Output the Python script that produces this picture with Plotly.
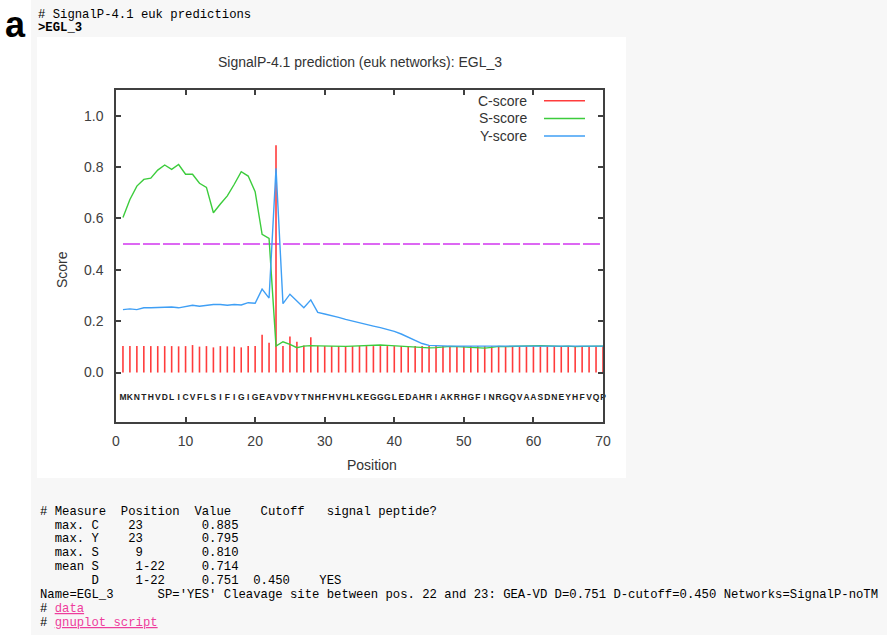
import plotly.graph_objects as go

W, H = 887, 635
# plot-area pixel box
PL, PR, PT, PB = 116, 603, 90, 422

positions = list(range(1, 71))
sequence = list("MKNTHVDLICVFLSIFIGIGEAVDVYTNHFHVHLKEGGGLEDAHRIAKRHGFINRGQVAASDNEYHFVQP")

c_score = [0.103, 0.103, 0.103, 0.103, 0.103, 0.103, 0.103, 0.103, 0.102, 0.103,
           0.107, 0.101, 0.103, 0.098, 0.103, 0.102, 0.101, 0.098, 0.103, 0.103,
           0.147, 0.116, 0.885, 0.103, 0.140, 0.120, 0.105, 0.137, 0.104, 0.103,
           0.103, 0.103, 0.103, 0.103, 0.104, 0.103, 0.103, 0.103, 0.103, 0.103,
           0.103, 0.103, 0.103, 0.103, 0.103, 0.103, 0.103, 0.103, 0.103, 0.103,
           0.103, 0.103, 0.103, 0.103, 0.103, 0.103, 0.103, 0.103, 0.103, 0.103,
           0.103, 0.103, 0.103, 0.103, 0.103, 0.103, 0.103, 0.103, 0.103, 0.103]

s_score = [0.604, 0.674, 0.726, 0.752, 0.757, 0.788, 0.808, 0.791, 0.810, 0.772,
           0.772, 0.737, 0.721, 0.622, 0.656, 0.688, 0.733, 0.782, 0.765, 0.704,
           0.538, 0.522, 0.103, 0.120, 0.110, 0.097, 0.103, 0.105, 0.104, 0.103,
           0.102, 0.102, 0.102, 0.103, 0.104, 0.106, 0.107, 0.107, 0.106, 0.104,
           0.102, 0.100, 0.099, 0.097, 0.096, 0.097, 0.100, 0.102, 0.101, 0.100,
           0.099, 0.096, 0.095, 0.098, 0.102, 0.101, 0.102, 0.103, 0.104, 0.105,
           0.105, 0.104, 0.102, 0.102, 0.103, 0.101, 0.102, 0.103, 0.103, 0.103]

y_score = [0.245, 0.248, 0.245, 0.252, 0.252, 0.253, 0.253, 0.255, 0.252, 0.258,
           0.262, 0.258, 0.263, 0.265, 0.265, 0.262, 0.265, 0.263, 0.272, 0.270,
           0.325, 0.290, 0.795, 0.268, 0.305, 0.280, 0.252, 0.283, 0.234, 0.228,
           0.222, 0.215, 0.207, 0.200, 0.193, 0.187, 0.181, 0.175, 0.168, 0.160,
           0.150, 0.138, 0.125, 0.113, 0.106, 0.104, 0.104, 0.103, 0.103, 0.103,
           0.103, 0.103, 0.103, 0.103, 0.103, 0.103, 0.103, 0.103, 0.103, 0.103,
           0.103, 0.103, 0.103, 0.103, 0.103, 0.103, 0.103, 0.103, 0.103, 0.103]

cutoff = 0.5
seq_label_y = -0.1
x_ticks = [0, 10, 20, 30, 40, 50, 60, 70]
y_ticks = [0.0, 0.2, 0.4, 0.6, 0.8, 1.0]
legend_names = ["C-score", "S-score", "Y-score"]

header_lines = ["# SignalP-4.1 euk predictions", "<b>>EGL_3</b>"]
result_lines = [
    "# Measure  Position  Value    Cutoff   signal peptide?",
    "  max. C    23        0.885",
    "  max. Y    23        0.795",
    "  max. S     9        0.810",
    "  mean S     1-22     0.714",
    "       D     1-22     0.751  0.450    YES",
    "Name=EGL_3      SP='YES' Cleavage site between pos. 22 and 23: GEA-VD D=0.751 D-cutoff=0.450 Networks=SignalP-noTM",
]
link_lines = ["data", "gnuplot script"]

RED, GREEN, BLUE, MAG = "#ff3c3c", "#3ccc3c", "#3f9ff5", "#d236f0"
AX = "#404040"
SANS = "Liberation Sans, Arial, sans-serif"
MONO = "Liberation Mono, Courier New, monospace"


def px2x(px):
    return (px - PL) / (PR - PL)


def px2y(py):
    return (PB - py) / (PB - PT)


fig = go.Figure()

# cutoff line
fig.add_trace(go.Scatter(x=[positions[0], positions[-1]], y=[cutoff, cutoff], mode="lines",
                         line=dict(color=MAG, width=1.5, dash="17px,3px"), hoverinfo="skip"))

# C-score impulses
cx, cy = [], []
for p, v in zip(positions, c_score):
    cx += [p, p, None]
    cy += [0, v, None]
fig.add_trace(go.Scatter(x=cx, y=cy, mode="lines", line=dict(color=RED, width=1.6), name="C-score"))
fig.add_trace(go.Scatter(x=positions, y=s_score, mode="lines", line=dict(color=GREEN, width=1.4), name="S-score"))
fig.add_trace(go.Scatter(x=positions, y=y_score, mode="lines", line=dict(color=BLUE, width=1.4), name="Y-score"))

# sequence letters
fig.add_trace(go.Scatter(x=positions, y=[seq_label_y] * len(positions), mode="text", text=sequence,
                         textfont=dict(family=SANS, size=8.5, color="#222222"), cliponaxis=False,
                         texttemplate="<b>%{text}</b>", hoverinfo="skip"))

shapes = [
    dict(type="rect", xref="paper", yref="paper", x0=px2x(31), x1=px2x(W), y0=px2y(H), y1=px2y(0),
         fillcolor="#f7f7f7", line=dict(width=0), layer="below"),
    dict(type="rect", xref="paper", yref="paper", x0=px2x(37), x1=px2x(626), y0=px2y(478), y1=px2y(37),
         fillcolor="white", line=dict(width=0), layer="below"),
]
annotations = []

# legend (gnuplot style: text then sample)
for i, (name, col) in enumerate(zip(legend_names, [RED, GREEN, BLUE])):
    yy = 100.7 + i * 17.7
    annotations.append(dict(xref="paper", yref="paper", x=px2x(528), y=px2y(yy), xanchor="right",
                            yanchor="middle", text=name, showarrow=False, borderpad=0,
                            font=dict(family=SANS, size=14, color="#333333")))
    shapes.append(dict(type="line", xref="paper", yref="paper", x0=px2x(544), x1=px2x(585),
                       y0=px2y(yy), y1=px2y(yy), line=dict(color=col, width=1.5)))

# titles
annotations.append(dict(xref="paper", yref="paper", x=px2x(360), y=px2y(62), xanchor="center", yanchor="middle",
                        text="SignalP-4.1 prediction (euk networks): EGL_3", showarrow=False,
                        font=dict(family=SANS, size=14, color="#333333")))
annotations.append(dict(xref="paper", yref="paper", x=px2x(62), y=px2y(270), xanchor="center", yanchor="middle",
                        text="Score", textangle=-90, showarrow=False,
                        font=dict(family=SANS, size=14, color="#333333")))
annotations.append(dict(xref="paper", yref="paper", x=px2x(372), y=px2y(465), xanchor="center", yanchor="middle",
                        text="Position", showarrow=False,
                        font=dict(family=SANS, size=14, color="#333333")))

# panel letter
annotations.append(dict(xref="paper", yref="paper", x=px2x(4), y=px2y(3), xanchor="left", yanchor="top",
                        text="<b>a</b>", showarrow=False, borderpad=0,
                        font=dict(family=SANS, size=36, color="black")))


def mono(s):
    return s.replace(" ", "\u00a0")


for i, t in enumerate(header_lines):
    annotations.append(dict(xref="paper", yref="paper", x=px2x(37), y=px2y(15 + i * 13.5), xanchor="left",
                            yanchor="middle", text=mono(t),
                            showarrow=False, borderpad=0,
                            font=dict(family=MONO, size=12.25, color="black")))
for i, t in enumerate(result_lines):
    annotations.append(dict(xref="paper", yref="paper", x=px2x(39), y=px2y(511.7 + i * 13.85), xanchor="left",
                            yanchor="middle", text=mono(t), showarrow=False, borderpad=0,
                            font=dict(family=MONO, size=12.25, color="black")))
for j, t in enumerate(link_lines):
    i = len(result_lines) + j
    annotations.append(dict(xref="paper", yref="paper", x=px2x(39), y=px2y(511.7 + i * 13.85), xanchor="left",
                            yanchor="middle",
                            text="#\u00a0<span style='color:#ee3d9c'><u>" + mono(t) + "</u></span>",
                            showarrow=False, borderpad=0,
                            font=dict(family=MONO, size=12.25, color="black")))

fig.update_layout(
    width=W, height=H,
    margin=dict(l=PL, r=W - PR, t=PT, b=H - PB, pad=0),
    paper_bgcolor="white", plot_bgcolor="white",
    showlegend=False,
    shapes=shapes, annotations=annotations,
    xaxis=dict(range=[0, 70], tickvals=x_ticks, ticks="inside", ticklen=5, tickwidth=1.5, tickcolor=AX,
               showline=True, linecolor=AX, linewidth=1.5, mirror="ticks", showgrid=False, zeroline=False,
               tickfont=dict(family=SANS, size=14, color="#404040"), ticklabelstandoff=5),
    yaxis=dict(range=[-0.1925, 1.1], tickvals=y_ticks, tickformat=".1f", ticks="inside", ticklen=5,
               tickwidth=1.5, tickcolor=AX, showline=True, linecolor=AX, linewidth=1.5, mirror="ticks",
               showgrid=False, zeroline=False,
               tickfont=dict(family=SANS, size=14, color="#404040"), ticklabelstandoff=8),
)

fig.write_html("out.html")
